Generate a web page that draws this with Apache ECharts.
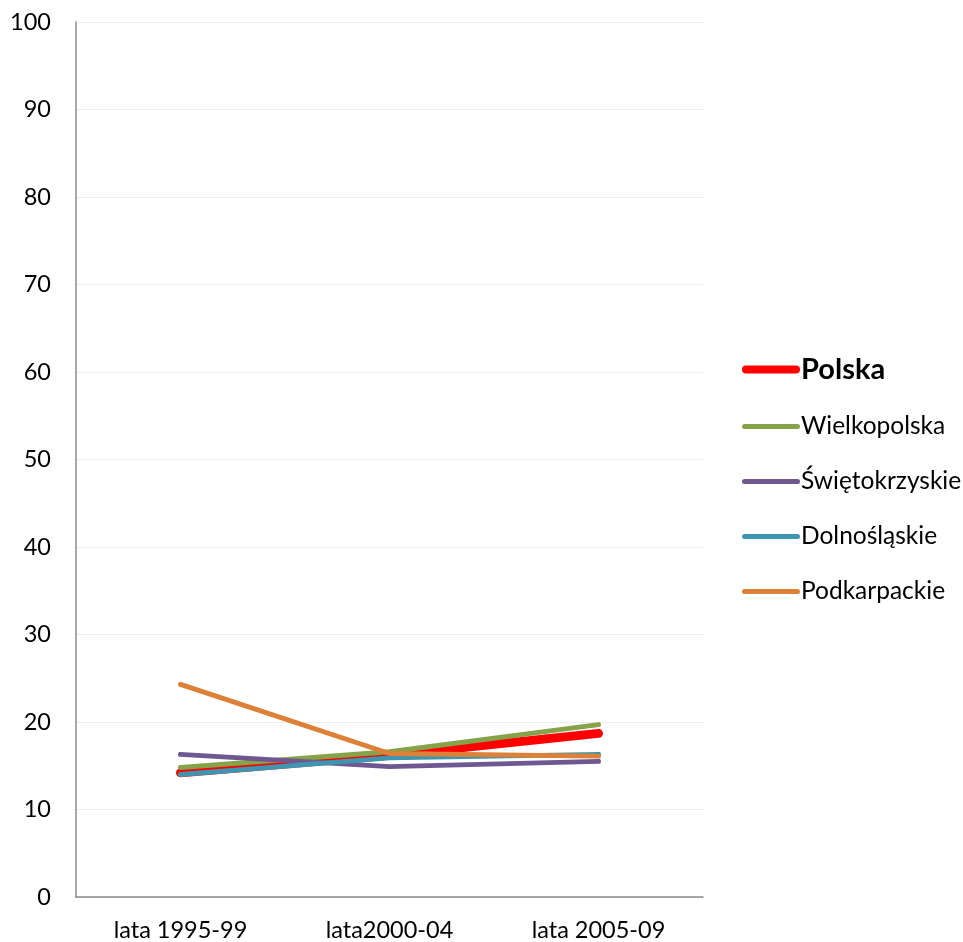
<!DOCTYPE html>
<html>
<head>
<meta charset="utf-8">
<script src="https://cdn.jsdelivr.net/npm/echarts@6/dist/echarts.min.js"></script>
<style>
  html, body { margin: 0; padding: 0; background: #fff; }
  #chart { width: 963px; height: 942px; }
</style>
</head>
<body>
<div id="chart"></div>
<script>
// Periods on the category axis
const categories = ['lata 1995-99', 'lata2000-04', 'lata 2005-09'];

// Values per region
const polska = [14.2, 16.2, 18.7];
const wielkopolska = [14.8, 16.6, 19.7];
const swietokrzyskie = [16.3, 14.9, 15.5];
const dolnoslaskie = [14.0, 15.9, 16.3];
const podkarpackie = [24.3, 16.4, 16.1];

// Y axis ticks
const yMin = 0, yMax = 100, yStep = 10;

const FONT = 'Lato, "Open Sans", sans-serif';

// Rounded bar icons for the legend (thick for the national line, thin for regions)
const iconThick = 'path://M4,0 H54 A4,4 0 0 1 54,8 H4 A4,4 0 0 1 4,0 Z';
const iconThin = 'path://M2.5,0 H55.5 A2.5,2.5 0 0 1 55.5,5 H2.5 A2.5,2.5 0 0 1 2.5,0 Z';

function line(name, data, color, width) {
  return {
    name: name,
    type: 'line',
    data: data,
    symbol: 'none',
    lineStyle: { color: color, width: width, cap: 'round', join: 'round' },
    itemStyle: { color: color },
    emphasis: { disabled: true },
    animation: false
  };
}

const chart = echarts.init(document.getElementById('chart'), null, { renderer: 'canvas' });
chart.setOption({
  backgroundColor: '#ffffff',
  textStyle: { fontFamily: FONT },
  grid: { left: 76, right: 260, top: 22, bottom: 45, containLabel: false },
  xAxis: {
    type: 'category',
    data: categories,
    boundaryGap: true,
    axisLine: { show: true, lineStyle: { color: '#8c8c8c', width: 1.5 } },
    axisTick: { show: false },
    axisLabel: { color: '#000', fontSize: 23.5, fontFamily: FONT, margin: 21, interval: 0 },
    splitLine: { show: false }
  },
  yAxis: {
    type: 'value',
    min: yMin, max: yMax, interval: yStep,
    axisLine: { show: true, lineStyle: { color: '#8c8c8c', width: 1.5 } },
    axisTick: { show: false },
    axisLabel: { color: '#000', fontSize: 23.5, fontFamily: FONT, margin: 25 },
    splitLine: { show: true, lineStyle: { color: '#ececec', width: 1 } }
  },
  legend: {
    orient: 'vertical',
    left: 742,
    top: 355,
    padding: 0,
    itemWidth: 58,
    itemHeight: 8,
    itemGap: 30,
    selectedMode: false,
    textStyle: { color: '#000', fontSize: 24.5, fontFamily: FONT, lineHeight: 24, padding: [0, 0, 0, -4] },
    data: [
      { name: 'Polska', icon: iconThick, textStyle: { fontSize: 29, fontWeight: 'bold', lineHeight: 24 } },
      { name: 'Wielkopolska', icon: iconThin },
      { name: 'Świętokrzyskie', icon: iconThin },
      { name: 'Dolnośląskie', icon: iconThin },
      { name: 'Podkarpackie', icon: iconThin }
    ]
  },
  series: [
    line('Polska', polska, '#ff0000', 9),
    line('Wielkopolska', wielkopolska, '#86a34a', 5),
    line('Świętokrzyskie', swietokrzyskie, '#6f5792', 5),
    line('Dolnośląskie', dolnoslaskie, '#3e95af', 5),
    line('Podkarpackie', podkarpackie, '#dc8137', 5)
  ]
});
</script>
</body>
</html>
